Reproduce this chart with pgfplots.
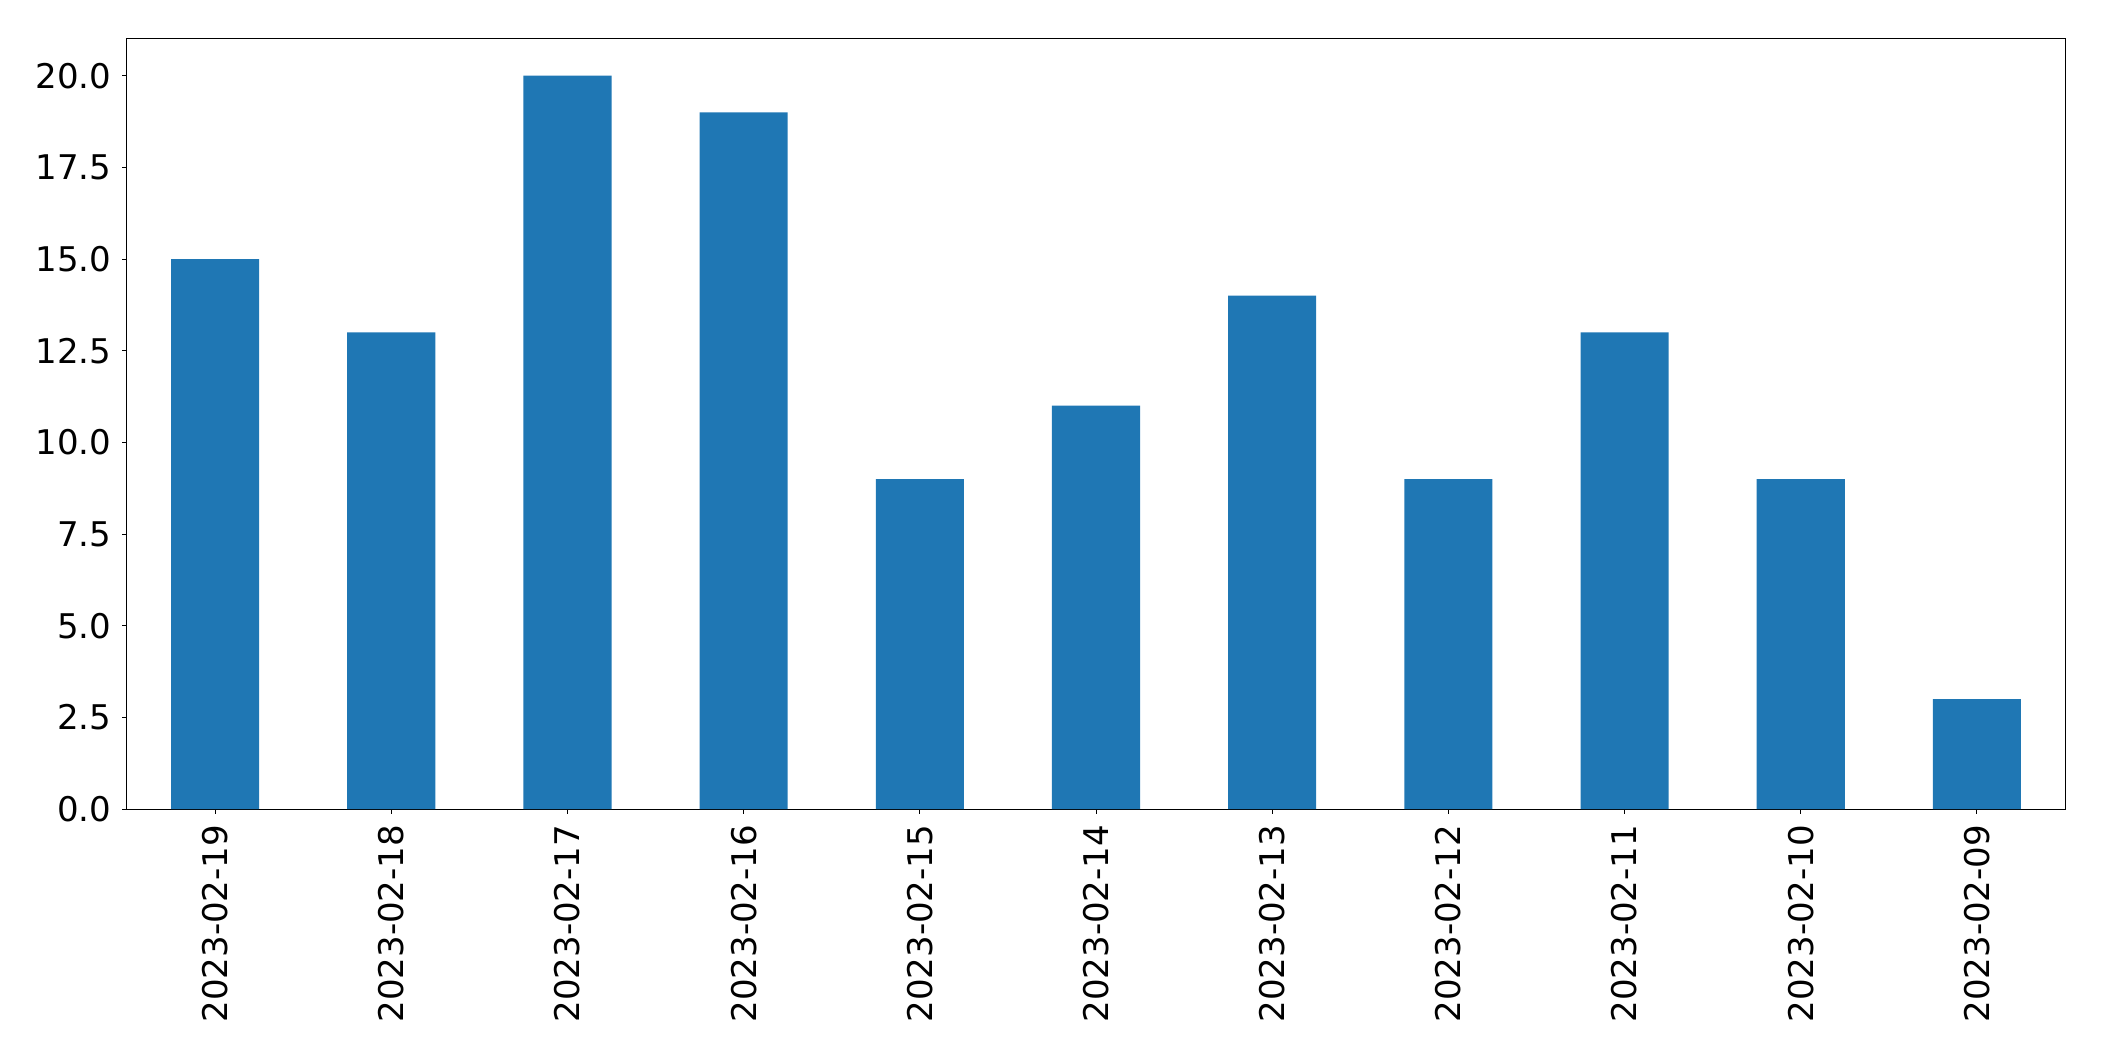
\documentclass[border=0pt]{standalone}
\usepackage{fontspec}
\setmainfont{DejaVu Sans}
\usepackage{pgfplots}
\pgfplotsset{compat=1.18}
\definecolor{tabblue}{HTML}{1F77B4}
\begin{document}
\begin{tikzpicture}
\begin{axis}[
  scale only axis,
  width=969pt, height=385pt,
  xmin=-0.5, xmax=10.5,
  ymin=0, ymax=21,
  ybar, bar width=0.5,
  xtick={0,...,10},
  xticklabels={2023-02-19,2023-02-18,2023-02-17,2023-02-16,2023-02-15,2023-02-14,2023-02-13,2023-02-12,2023-02-11,2023-02-10,2023-02-09},
  x tick label style={rotate=90, anchor=east, font=\fontsize{17}{20}\selectfont},
  ytick={0,2.5,5,7.5,10,12.5,15,17.5,20},
  y tick label style={font=\fontsize{17}{20}\selectfont},
  yticklabel style={/pgf/number format/.cd, fixed, fixed zerofill, precision=1, assume math mode=true},
  /pgf/number format/assume math mode=true,
  tick align=outside,
  tick pos=left,
  major tick length=2.4pt,
  every tick/.style={black, line width=0.5pt},
  axis line style={black, line width=0.5pt},
  xticklabel shift=2pt,
  yticklabel shift=2pt,
  axis on top=false,
]
\addplot[fill=tabblue, draw=none] coordinates {
(0,15) (1,13) (2,20) (3,19) (4,9) (5,11) (6,14) (7,9) (8,13) (9,9) (10,3)};
\end{axis}
\path ([xshift=-63.5pt,yshift=-126pt]current axis.south west) rectangle ([xshift=19.5pt,yshift=19.5pt]current axis.north east);
\end{tikzpicture}
\end{document}
